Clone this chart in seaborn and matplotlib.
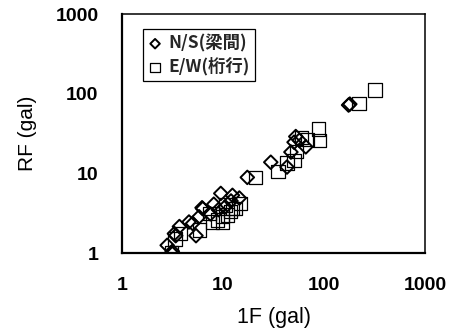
import matplotlib
matplotlib.use("Agg")
import matplotlib.pyplot as plt
import seaborn as sns
from matplotlib.font_manager import FontProperties

# N/S (梁間) - diamonds
ns_x = [3.1, 3.15, 2.8, 3.3, 3.4, 3.7, 4.6, 5.0, 5.4, 5.8, 6.2, 6.3, 7.5, 8.1, 9.5,
        9.0, 10.5, 12.4, 12.0, 14.5, 17.4, 29.7, 43, 47, 50.5, 52.5, 57, 66, 175, 180]
ns_y = [1.0, 1.05, 1.25, 1.75, 1.65, 2.15, 2.45, 2.35, 1.65, 2.85, 3.7, 3.6, 3.1, 4.1, 5.6,
        3.5, 3.8, 5.3, 4.5, 4.9, 8.9, 13.8, 12, 18.5, 24.6, 29, 26, 21.5, 72, 74]

# E/W (桁行) - squares
ew_x = [3.1, 3.35, 3.8, 5.8, 7.3, 7.8, 8.8, 9.8, 9.8, 10.6, 11.9, 12.4, 13.4, 15, 11,
        21, 35, 43, 50.5, 53, 68, 88, 90, 222, 320, 60]
ew_y = [1.0, 1.5, 1.75, 1.95, 3.1, 2.45, 2.6, 2.45, 2.85, 4.0, 3.3, 3.6, 3.6, 4.2, 3.0,
        8.8, 10.5, 13.5, 14.5, 19, 26.5, 36, 26, 76, 111, 28]

series_labels = ["N/S(梁間)", "E/W(桁行)"]
tick_vals = [1, 10, 100, 1000]
tick_labels = ["1", "10", "100", "1000"]
x_label = "1F (gal)"
y_label = "RF (gal)"

sns.set_style("white")
plt.rcParams['font.family'] = ['Liberation Sans', 'Noto Sans CJK JP', 'DejaVu Sans']

fig = plt.figure(figsize=(4.72, 3.31), dpi=100)
ax = fig.add_axes([0.2585, 0.2356, 0.642, 0.722])

sns.scatterplot(x=ns_x, y=ns_y, marker='D', s=48, color='black', facecolor='none',
                edgecolor='black', linewidth=1.4, label=series_labels[0], ax=ax, zorder=3)
sns.scatterplot(x=ew_x, y=ew_y, marker='s', s=90, color='black', facecolor='none',
                edgecolor='black', linewidth=0.9, label=series_labels[1], ax=ax, zorder=2)

ax.set_xscale('log')
ax.set_yscale('log')
ax.set_xlim(1, 1000)
ax.set_ylim(1, 1000)
ax.set_xticks(tick_vals)
ax.set_yticks(tick_vals)
ax.set_xticklabels(tick_labels)
ax.set_yticklabels(tick_labels)
ax.minorticks_off()
ax.tick_params(axis='both', which='major', direction='in', length=6.5, width=1.0,
               color='black', labelsize=14, labelcolor='black')
ax.tick_params(axis='x', pad=17)
ax.tick_params(axis='y', pad=17)
for lab in ax.get_xticklabels() + ax.get_yticklabels():
    lab.set_fontweight('bold')

for side, lw in [('left', 1.6), ('bottom', 1.6), ('top', 1.1), ('right', 1.1)]:
    ax.spines[side].set_visible(True)
    ax.spines[side].set_color('black')
    ax.spines[side].set_linewidth(lw)

ax.set_xlabel(x_label, fontsize=15.5, color='black')
ax.set_ylabel(y_label, fontsize=15, color='black')
ax.xaxis.set_label_coords(0.50, -0.225)
ax.yaxis.set_label_coords(-0.28, 0.50)
ax.xaxis.label.set_va('top')

leg = ax.legend(loc='upper left', bbox_to_anchor=(0.069, 0.9375), borderaxespad=0,
                frameon=True, fancybox=False, edgecolor='black', framealpha=1,
                handletextpad=0.35, handlelength=0.8, borderpad=0.3,
                labelspacing=0.3, markerscale=0.7,
                prop=FontProperties(family=['Noto Sans CJK JP', 'DejaVu Sans'],
                                    weight='bold', size=12.5))
leg.get_frame().set_linewidth(0.9)

fig.savefig("out.png", dpi=100, facecolor='white')
